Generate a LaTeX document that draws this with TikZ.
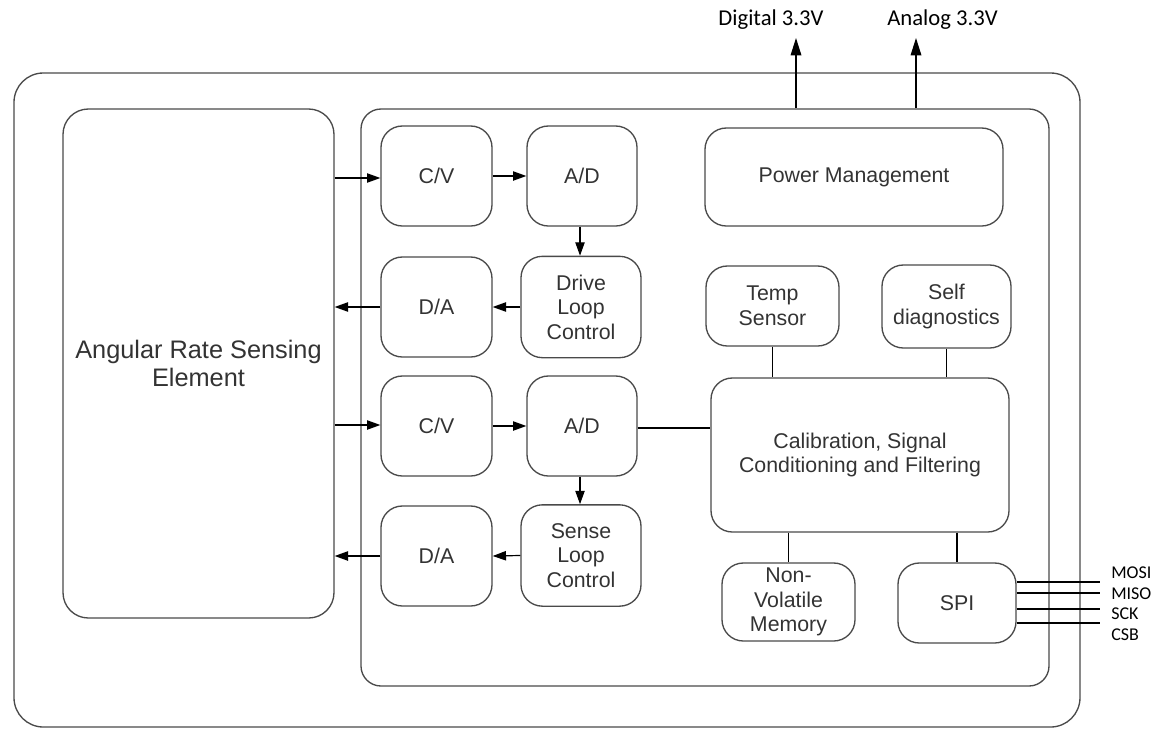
\documentclass[tikz,border=0pt]{standalone}
\usepackage{fontspec}
\setsansfont{Liberation Sans}
\newfontfamily\labelfont{Carlito}
\usetikzlibrary{arrows.meta}
\definecolor{boxgray}{HTML}{4A4A4A}
\definecolor{txtgray}{HTML}{333333}

\begin{document}
\begin{tikzpicture}[x=0.75pt,y=-0.75pt,
        blk/.style={draw=boxgray, line width=1pt, rounded corners=16pt,
                        align=center, text=txtgray, inner sep=0pt,
                        font=\sffamily\fontsize{16}{18.4}\selectfont},
        conv/.style={blk, minimum width=83.25pt, minimum height=75pt},
        loopbox/.style={blk, minimum width=90pt, minimum height=76pt},
        frame/.style={draw=boxgray, line width=1pt, inner sep=0pt},
        sig/.style={line width=0.9pt, -{Triangle[length=10pt,width=7pt]}},
        wire/.style={line width=0.9pt},
        lbl/.style={font=\labelfont\fontsize{17}{20}\selectfont, inner sep=0pt},
        pin/.style={font=\labelfont\fontsize{13.5}{16}\selectfont, inner sep=0pt, anchor=west}]
    \useasboundingbox (0,0) rectangle (1154,729);

    % frames
    \node[frame, rounded corners=22pt, minimum width=799.5pt, minimum height=490.5pt]
        (module) at (547,400) {};
    \node[frame, rounded corners=15pt, minimum width=516pt, minimum height=432.75pt]
        (asic) at (705,397.5) {};

    % sensing element
    \node[blk, rounded corners=19pt, minimum width=203.25pt, minimum height=381.75pt,
          font=\sffamily\fontsize{19}{21}\selectfont]
        (ares) at (198.5,363.5) {Angular Rate Sensing\\Element};

    % drive path
    \node[conv] (cva) at (436.5,176) {C/V};
    \node[conv, minimum width=82.5pt] (ada) at (582,176) {A/D};
    \node[conv] (daa) at (436.5,307) {D/A};
    \node[loopbox] (dlc) at (581,307) {Drive\\Loop\\Control};

    % sense path
    \node[conv] (cvb) at (436.5,426) {C/V};
    \node[conv, minimum width=82.5pt] (adb) at (582,426) {A/D};
    \node[conv] (dab) at (436.5,556) {D/A};
    \node[loopbox] (slc) at (581,555.5) {Sense\\Loop\\Control};

    % digital part
    \node[blk, minimum width=223.5pt, minimum height=73.5pt] (pm) at (854,177) {Power Management};
    \node[blk, minimum width=99.75pt, minimum height=60pt] (temp) at (772.5,306) {Temp\\Sensor};
    \node[blk, minimum width=96.75pt, minimum height=62.25pt] (self) at (946.5,306.5) {Self\\diagnostics};
    \node[blk, minimum width=223.5pt, minimum height=115.5pt] (cal) at (860,455)
        {Calibration, Signal\\Conditioning and Filtering};
    \node[blk, minimum width=99.75pt, minimum height=58.5pt] (nvm) at (788.5,602) {Non-\\Volatile\\Memory};
    \node[blk, minimum width=88.5pt, minimum height=60pt] (spi) at (957,603) {SPI};

    % signals
    \draw[sig] (ares.east |- 0,178) -- (cva.west |- 0,178);
    \draw[sig] (cva.east) -- (ada.west);
    \draw[sig] (ada.south -| 580,0) -- (dlc.north -| 580,0);
    \draw[sig] (dlc.west) -- (daa.east);
    \draw[sig] (daa.west) -- (ares.east |- daa.west);
    \draw[sig] (ares.east |- 0,425) -- (cvb.west |- 0,425);
    \draw[sig] (cvb.east) -- (adb.west);
    \draw[sig] (adb.south -| 580,0) -- (slc.north -| 580,0);
    \draw[sig] (slc.west) -- (dab.east);
    \draw[sig] (dab.west) -- (ares.east |- dab.west);

    \draw[wire] (adb.east |- 0,428) -- (cal.west |- 0,428);
    \draw[wire] (temp.south) -- (temp.south |- cal.north);
    \draw[wire] (self.south) -- (self.south |- cal.north);
    \draw[wire] (nvm.north |- cal.south) -- (nvm.north);
    \draw[wire] (spi.north |- cal.south) -- (spi.north);

    % supplies
    \coordinate (dig) at (796,38);
    \coordinate (ana) at (916,38);
    \draw[sig, -{Triangle[length=13pt,width=8pt]}] (asic.north -| dig) -- (dig);
    \draw[sig, -{Triangle[length=13pt,width=8pt]}] (asic.north -| ana) -- (ana);
    \node[lbl] (diglbl) at (771,20) {Digital 3.3V};
    \node[lbl] (analbl) at (942.5,20) {Analog 3.3V};

    % spi bus
    \foreach \y/\n in {582/mosi,593/miso,609/sck,623/csb} {
        \coordinate (\n) at (1100,\y);
        \draw[wire] (spi.east |- \n) -- (\n);
    }
    \node[pin] (mosilbl) at (1111,573) {MOSI};
    \node[pin] (misolbl) at (1111,593.5) {MISO};
    \node[pin] (scklbl) at (1111,614) {SCK};
    \node[pin] (csblbl) at (1111,635) {CSB};
\end{tikzpicture}
\end{document}
